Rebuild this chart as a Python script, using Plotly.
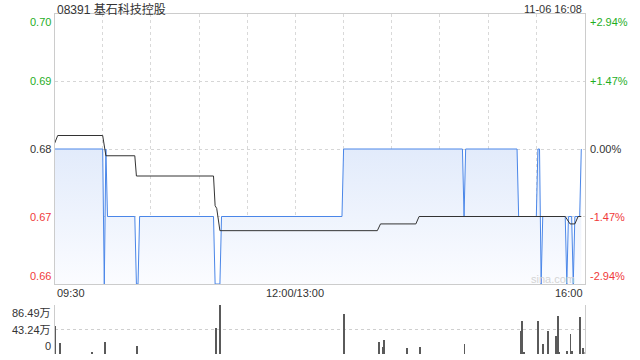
import plotly.graph_objects as go

# ---- data ----
title_text = "08391 基石科技控股"
stamp_text = "11-06 16:08"

# price line vertices: minute index since 09:30 (lunch break removed), price
price_min = [0, 30, 31, 32, 33, 50, 51, 52, 53, 99, 100, 103, 104, 179, 180,
             254, 255, 256, 288, 289, 300, 301, 302, 303, 304, 318, 319, 320,
             322, 323, 324, 327, 328]
price_val = [0.68, 0.68, 0.66, 0.68, 0.67, 0.67, 0.66, 0.66, 0.67, 0.67, 0.66, 0.66, 0.67, 0.67, 0.68,
             0.68, 0.67, 0.68, 0.68, 0.67, 0.67, 0.68, 0.68, 0.66, 0.67, 0.67, 0.66, 0.67,
             0.67, 0.66, 0.67, 0.67, 0.68]

# average price line vertices
avg_min = [0, 2, 30, 32, 50, 51, 99, 100, 101, 103, 201, 203, 225, 227, 318, 321, 324, 326, 328]
avg_val = [0.6808, 0.6820, 0.6820, 0.6790, 0.6790, 0.6760, 0.6760, 0.6716, 0.6712, 0.6679,
           0.6679, 0.6689, 0.6689, 0.6700, 0.6700, 0.6689, 0.6689, 0.6700, 0.6700]

# volume bars (万股)
vol_min = [0, 3, 23, 31, 51, 100, 103, 180, 202, 204, 205, 219, 227, 255, 290, 291, 292,
           301, 304, 307, 312, 313, 314, 319, 321, 322, 327, 329, 330]
vol_val = [50, 20, 3, 21.7, 14.6, 46, 86.49, 70.6, 21, 12.4, 24.7, 10.6, 12.4, 17.6, 40.6, 58, 2,
           58, 17.6, 40.6, 31.8, 67, 3, 5, 35, 5, 65, 10.6, 4]

price_ticks = [0.70, 0.69, 0.68, 0.67, 0.66]
price_labels = ["0.70", "0.69", "0.68", "0.67", "0.66"]
pct_labels = ["+2.94%", "+1.47%", "0.00%", "-1.47%", "-2.94%"]
label_colors = ["#1fae1f", "#1fae1f", "#333333", "#f03a3a", "#f03a3a"]

vol_ticks = [86.49, 43.24, 0]
vol_labels = ["86.49万", "43.24万", "0"]

time_ticks = [0, 150, 330]
time_labels = ["09:30", "12:00/13:00", "16:00"]
grid_minutes = [30, 60, 90, 120, 150, 180, 210, 240, 270, 300]

FONT = "Liberation Sans, Arial, Noto Sans CJK SC, sans-serif"
W, H = 640, 360
L, R = 54.5, 584.5
MT, MB = 14, 284
VT, VB = 305, 354

fig = go.Figure()

fig.add_trace(go.Scatter(
    x=price_min, y=price_val, mode="lines",
    line=dict(color="#4a86e8", width=1),
    fill="tozeroy",
    fillgradient=dict(type="vertical", start=0.66, stop=0.68,
                      colorscale=[[0, "#fbfcff"], [1, "#e2ebfb"]]),
    xaxis="x", yaxis="y", hoverinfo="skip", showlegend=False))

fig.add_trace(go.Scatter(
    x=avg_min, y=avg_val, mode="lines",
    line=dict(color="#333333", width=1),
    xaxis="x", yaxis="y", hoverinfo="skip", showlegend=False))

fig.add_trace(go.Bar(
    x=vol_min, y=vol_val, width=0.55,
    marker=dict(color="#5a5a5a", line=dict(width=0)),
    xaxis="x2", yaxis="y2", hoverinfo="skip", showlegend=False))

fig.update_layout(
    width=W, height=H, margin=dict(l=0, r=0, t=0, b=0),
    paper_bgcolor="white", plot_bgcolor="white",
    font=dict(family=FONT, size=11, color="#333333"),
    bargap=0,
    xaxis=dict(domain=[L / W, R / W], range=[0, 330], tickvals=grid_minutes,
               showticklabels=False, ticks="", showgrid=True, gridcolor="#d9d9d9",
               griddash="dot", gridwidth=1, showline=True, mirror=True,
               linecolor="#cccccc", linewidth=1, zeroline=False, anchor="y"),
    yaxis=dict(domain=[1 - MB / H, 1 - MT / H], range=[0.66, 0.70],
               tickvals=[0.67, 0.68, 0.69], showticklabels=False, ticks="",
               showgrid=True, gridcolor="#d6d6d6", griddash="dot", gridwidth=1,
               showline=True, mirror=True, linecolor="#cccccc", linewidth=1,
               zeroline=False, anchor="x"),
    xaxis2=dict(domain=[L / W, R / W], range=[0, 330], showticklabels=False,
                ticks="", showgrid=False, showline=False, zeroline=False, anchor="y2"),
    yaxis2=dict(domain=[1 - VB / H, 1 - VT / H], range=[0, 86.49],
                tickvals=vol_ticks, showticklabels=False, ticks="",
                showgrid=True, gridcolor="#cfcfcf", griddash="dot", gridwidth=1,
                showline=True, mirror=True, linecolor="#cccccc", linewidth=1,
                zeroline=False, anchor="x2"),
)

ann = []
ann.append(dict(text=title_text, xref="paper", yref="paper", x=L / W, y=1 - 0.5 / H,
                xanchor="left", yanchor="top", showarrow=False,
                font=dict(size=12, color="#333333", family=FONT)))
ann.append(dict(text=stamp_text, xref="paper", yref="paper", x=(R - 1) / W, y=1 - 0.5 / H,
                xanchor="right", yanchor="top", showarrow=False,
                font=dict(size=11, color="#333333", family=FONT)))

n = len(price_ticks)
for i, (v, lab, pl, c) in enumerate(zip(price_ticks, price_labels, pct_labels, label_colors)):
    ya = "top" if i == 0 else ("bottom" if i == n - 1 else "middle")
    ann.append(dict(text=lab, xref="paper", yref="y", x=(L - 2) / W, y=v,
                    xanchor="right", yanchor=ya, showarrow=False,
                    font=dict(size=11, color=c, family=FONT)))
    ann.append(dict(text=pl, xref="paper", yref="y", x=(R + 3) / W, y=v,
                    xanchor="left", yanchor=ya, showarrow=False,
                    font=dict(size=11, color=c, family=FONT)))

for i, (v, lab) in enumerate(zip(vol_ticks, vol_labels)):
    ya = "top" if i == 0 else ("bottom" if i == len(vol_ticks) - 1 else "middle")
    ann.append(dict(text=lab, xref="paper", yref="y2", x=(L - 2) / W, y=v,
                    xanchor="right", yanchor=ya, showarrow=False,
                    font=dict(size=11, color="#333333", family=FONT)))

anchors = ["left", "center", "right"]
for t, lab, xa in zip(time_ticks, time_labels, anchors):
    ann.append(dict(text=lab, xref="x", yref="paper", x=t, y=1 - (MB + 1) / H,
                    xanchor=xa, yanchor="top", showarrow=False,
                    font=dict(size=11, color="#333333", family=FONT)))

ann.append(dict(text="sina.com", xref="paper", yref="paper", x=(R - 32) / W, y=1 - 279 / H,
                xanchor="center", yanchor="middle", showarrow=False,
                font=dict(size=11, color="#d4d4d4", family=FONT)))

fig.update_layout(annotations=ann)
fig.write_html("out.html")
